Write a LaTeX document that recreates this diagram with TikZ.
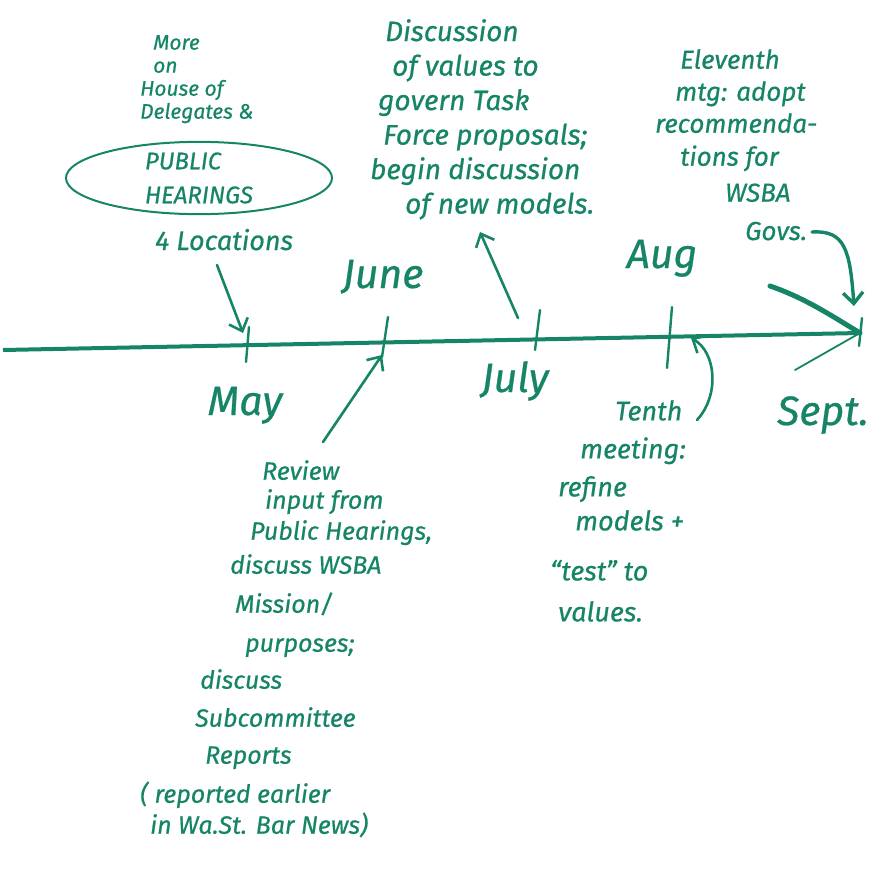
\documentclass[tikz,border=0pt]{standalone}
\usepackage{fontspec}
\setmainfont{Fira Sans}[ItalicFeatures={FakeBold=0.6}]
\usetikzlibrary{arrows.meta,shapes.geometric,calc}
\definecolor{ink}{RGB}{22,132,102}
\begin{document}
\begin{tikzpicture}[x=1pt,y=-1pt,
  every node/.style={text=ink, inner sep=0pt},
  hand/.style={draw=ink, line width=2.6pt, line cap=round, line join=round},
  tick/.style={draw=ink, line width=2.4pt, line cap=round},
  tipv/.style={-{Straight Barb[length=11pt,width=20pt]}},
  month/.style={font=\itshape\fontsize{41}{41}\selectfont, anchor=base},
  blk/.style={anchor=north west, align=left}]
\useasboundingbox (0,0) rectangle (872,884);

% timeline
\coordinate (L) at (3,350);
\coordinate (R) at (860,333);
\draw[ink, line width=4pt] (L) -- (R);
\draw[ink, line width=5pt, line cap=round] (770,286) .. controls (805,298) and (832,316) .. (R);
\draw[ink, line width=1.8pt, line cap=round] (795,370) -- (R);

% ticks
\coordinate (mayT) at (249,327);  \coordinate (mayB) at (246,362);
\coordinate (junT) at (388,317);  \coordinate (junB) at (382,357);
\coordinate (julT) at (540,310);  \coordinate (julB) at (535,350);
\coordinate (augT) at (672,307);  \coordinate (augB) at (667,368);
\coordinate (sepT) at (862,318);  \coordinate (sepB) at (859,346);
\draw[tick] (mayT) -- (mayB);
\draw[tick] (junT) -- (junB);
\draw[tick] (julT) -- (julB);
\draw[tick] (augT) -- (augB);
\draw[tick] (sepT) -- (sepB);

% month labels
\node[month] (may) at (245,415) {May};
\node[month] (june) at (383,288) {June};
\node[month] (july) at (515,392) {July};
\node[month] (aug) at (662,268) {Aug};
\node[month] (sept) at (823,425) {Sept.};

% top-left block
\node[blk, font=\itshape\fontsize{21}{23}\selectfont] (more) at (140,35)
  {\hspace*{13pt}More\\ \hspace*{13pt}on\\ House of\\ Delegates \&};
\node[draw=ink, line width=2pt, ellipse, minimum width=266pt, minimum height=62pt,
      align=left, font=\itshape\fontsize{24}{34}\selectfont] (ph) at (199,178)
  {PUBLIC\\HEARINGS};
\node[anchor=base west, font=\itshape\fontsize{27}{27}\selectfont] (loc) at (155,250) {4 Locations};

% top-middle block
\node[blk, font=\itshape\fontsize{28}{34.5}\selectfont] (disc) at (370,19)
  {\hspace*{15pt}Discussion\\ \hspace*{22pt}of values to\\ \hspace*{8pt}govern Task\\
   \hspace*{13pt}Force proposals;\\ begin discussion\\ \hspace*{35pt}of new models.};

% top-right block
\node[blk, font=\itshape\fontsize{26}{32}\selectfont] (elev) at (655,49)
  {\hspace*{25pt}Eleventh\\ \hspace*{20pt}mtg: adopt\\ recommenda-\\[1pt]
   \hspace*{25pt}tions for\\[4pt] \hspace*{70pt}WSBA};
\node[anchor=base west, font=\itshape\fontsize{26}{26}\selectfont] (govs) at (745,240) {Govs.};

% bottom-middle block
\node[blk, font=\itshape\fontsize{25}{29}\selectfont] (rev) at (140,460)
  {\hspace*{122pt}Review\\ \hspace*{125pt}input from\\[2pt] \hspace*{110pt}Public Hearings,\\[5pt]
   \hspace*{90pt}discuss WSBA\\[10pt] \hspace*{95pt}Mission/\\[10pt] \hspace*{105pt}purposes;\\[8pt]
   \hspace*{60pt}discuss\\[9pt] \hspace*{55pt}Subcommittee\\[8pt] \hspace*{65pt}Reports\\[10pt]
   ( reported earlier\\[2pt] \hspace*{10pt}in Wa.St. Bar News)};

% bottom-right block
\node[blk, font=\itshape\fontsize{27}{38}\selectfont] (tenth) at (550,400)
  {\hspace*{65pt}Tenth\\ \hspace*{30pt}meeting:\\ \hspace*{8pt}refine\\[-4pt]
   \hspace*{25pt}models +\\[12pt] ``test'' to\\[3pt] \hspace*{8pt}values.};

% connectors
\coordinate (locA) at (217,265);
\draw[hand, tipv] (locA) -- ($(mayT)+(-6,6)$);
\coordinate (revA) at (323,442);
\draw[hand, tipv] (revA) -- ($(junT)+(-6,38)$);
\coordinate (julA) at (518,318);
\coordinate (discA) at (480,232);
\draw[hand, tipv] (julA) -- (discA);
\coordinate (tenA) at (697,420);
\draw[hand, tipv] (tenA) .. controls (720,395) and (716,352) .. ($(augT)+(19,31)$);
\coordinate (govA) at (812,232);
\draw[hand, line width=3.4pt, tipv] (govA) .. controls (845,230) and (850,250) .. ($(sepT)+(-8,-12)$);
\end{tikzpicture}
\end{document}
